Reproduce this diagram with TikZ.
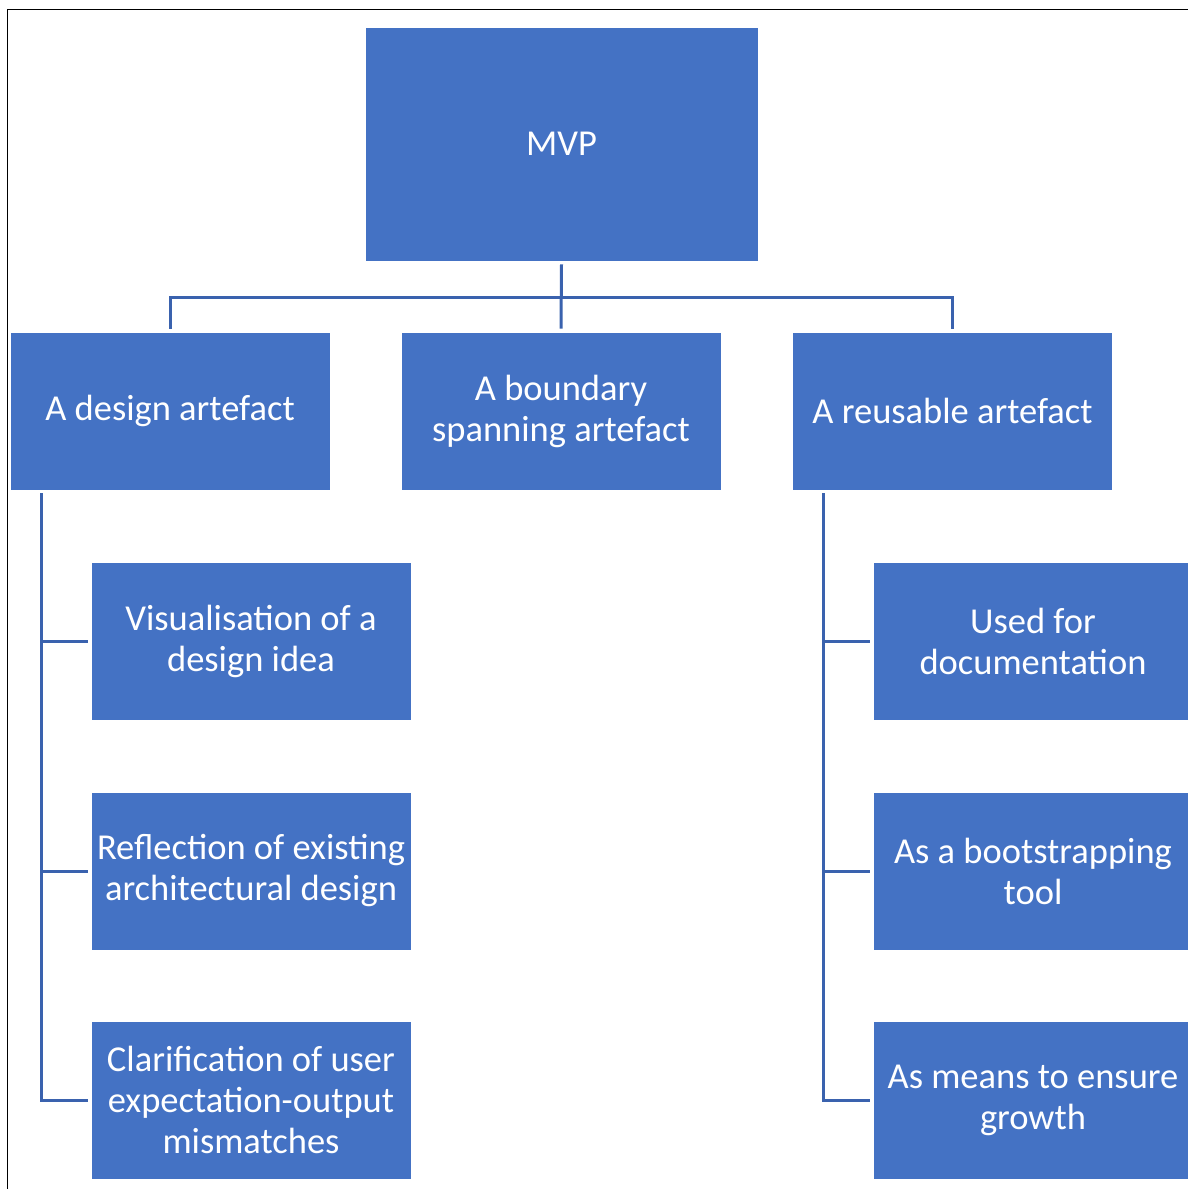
\documentclass[tikz,border=0pt]{standalone}
\usepackage{fontspec}
\setmainfont{Carlito}
\definecolor{boxblue}{HTML}{4472C4}
\definecolor{lineblue}{HTML}{3A62AE}
\begin{document}
\begin{tikzpicture}[x=1pt,y=-1pt,
  box/.style={fill=boxblue, draw=white, line width=0.8pt, text=white,
    minimum width=320pt, minimum height=158pt, inner sep=0pt,
    align=center, font=\fontsize{36.5}{41}\selectfont},
  conn/.style={draw=lineblue, line width=3pt}]
\useasboundingbox (0,0) rectangle (1188,1189);
\clip (0,0) rectangle (1188,1189);

% frame on the left and top edges
\draw[black, line width=1.4pt] (7.5,1189) -- (7.5,9.5) -- (1188,9.5);

% root
\node[box, minimum width=393pt, minimum height=234pt] (mvp) at (561.5,144) {MVP};

% first level
\node[box] (design) at (170,411) {A design artefact};
\node[box] (boundary) at (561,411) {A boundary\\spanning artefact};
\node[box] (reuse) at (952.5,411) {A reusable artefact};

% children of the design artefact
\node[box] (d1) at (251,641) {Visualisation of a\\design idea};
\node[box] (d2) at (251,871) {Reflection of existing\\architectural design};
\node[box] (d3) at (251,1100) {Clarification of user\\expectation-output\\mismatches};

% children of the reusable artefact
\node[box] (r1) at (1033,641) {Used for\\documentation};
\node[box] (r2) at (1033,871) {As a bootstrapping\\tool};
\node[box] (r3) at (1033,1100) {As means to ensure\\growth};

% tree connectors
\coordinate (bus) at (561,297);
\draw[conn] ([yshift=-3pt]mvp.south) -- ([yshift=3pt]boundary.north);
\draw[conn] ([yshift=3pt]design.north) |- (bus) -| ([yshift=3pt]reuse.north);

\coordinate (ltrunk) at (41,493);
\draw[conn] (ltrunk) |- ([xshift=-3pt]d3.west);
\draw[conn] (ltrunk |- d1.west) -- ([xshift=-3pt]d1.west);
\draw[conn] (ltrunk |- d2.west) -- ([xshift=-3pt]d2.west);

\coordinate (rtrunk) at (823,493);
\draw[conn] (rtrunk) |- ([xshift=-3pt]r3.west);
\draw[conn] (rtrunk |- r1.west) -- ([xshift=-3pt]r1.west);
\draw[conn] (rtrunk |- r2.west) -- ([xshift=-3pt]r2.west);
\end{tikzpicture}
\end{document}
